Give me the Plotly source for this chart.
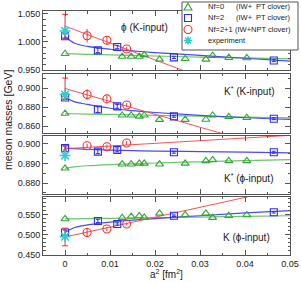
import plotly.graph_objects as go
from plotly.subplots import make_subplots

# ---------------- data ----------------
a2_nf0 = [0.0, 0.0127, 0.0147, 0.0165, 0.0176, 0.0210, 0.0267, 0.0313, 0.0328, 0.0364, 0.0404]
a2_nf2 = [0.0, 0.0073, 0.0116, 0.0242, 0.0464]
a2_nf21 = [0.0, 0.0049, 0.0093, 0.0137]
a2_exp = [0.0]

# panel 1: phi (K-input)
phiK_nf0 = [0.979, 0.974, 0.974, 0.974, 0.977, 0.969, 0.970, 0.969, 0.9755, 0.972, 0.9715]
phiK_nf2 = [1.010, 0.985, 0.991, 0.9725, 0.967]
phiK_nf2_err = [0.004, 0.004, 0.003, 0.002, 0.002]
phiK_nf21 = [1.028, 1.011, 1.003, 0.9875]
phiK_nf21_err = [0.021, 0.012, 0.007, 0.004]
phiK_exp = [1.0195]

# panel 2: K* (K-input)
KsK_nf0 = [0.8734, 0.8716, 0.8716, 0.8705, 0.8716, 0.8670, 0.8670, 0.8672, 0.8716, 0.8700, 0.8690]
KsK_nf2 = [0.8902, 0.8776, 0.8810, 0.8705, 0.8680]
KsK_nf2_err = [0.002, 0.003, 0.002, 0.001, 0.001]
KsK_nf21 = [0.8997, 0.8934, 0.8888, 0.8824]
KsK_nf21_err = [0.011, 0.0055, 0.003, 0.002]
KsK_exp = [0.8934]

# panel 3: K* (phi-input)
KsP_nf0 = [0.8875, 0.8896, 0.8896, 0.8900, 0.8900, 0.8896, 0.8900, 0.8913, 0.8918, 0.8913, 0.8913]
KsP_nf2 = [0.8978, 0.8960, 0.8969, 0.8957, 0.8957]
KsP_nf2_err = [0.001, 0.001, 0.001, 0.0005, 0.0005]
KsP_nf21 = [0.8975, 0.8990, 0.8985, 0.9004]
KsP_nf21_err = [0.0015, 0.001, 0.001, 0.001]
KsP_exp = [0.8940]

# panel 4: K (phi-input)
KP_nf0 = [0.540, 0.543, 0.546, 0.5475, 0.544, 0.554, 0.550, 0.554, 0.5433, 0.548, 0.550]
KP_nf2 = [0.506, 0.535, 0.5275, 0.548, 0.5567]
KP_nf2_err = [0.006, 0.004, 0.003, 0.002, 0.002]
KP_nf21 = [0.495, 0.506, 0.515, 0.5275]
KP_nf21_err = [0.022, 0.012, 0.005, 0.003]
KP_exp = [0.4957]

# fit curves
fit_x = [0.0, 0.002, 0.005, 0.01, 0.015, 0.02, 0.03, 0.04, 0.05]
phiK_fit_nf0 = [0.979, 0.9786, 0.978, 0.977, 0.976, 0.975, 0.973, 0.9715, 0.970]
phiK_fit_nf2 = [1.010, 0.998, 0.992, 0.987, 0.984, 0.981, 0.976, 0.971, 0.966]
KsK_fit_nf0 = [0.8734, 0.8732, 0.8729, 0.8725, 0.8720, 0.8716, 0.8706, 0.8697, 0.8688]
KsK_fit_nf2 = [0.8902, 0.8860, 0.8830, 0.8790, 0.8765, 0.8745, 0.8715, 0.8690, 0.8672]
KsP_fit_nf0 = [0.8875, 0.8882, 0.8888, 0.8894, 0.8898, 0.8902, 0.8908, 0.8914, 0.8919]
KsP_fit_nf2 = [0.8978, 0.8975, 0.8972, 0.8968, 0.8965, 0.8963, 0.8960, 0.8957, 0.8954]
KP_fit_nf0 = [0.540, 0.5403, 0.5408, 0.5416, 0.5424, 0.5432, 0.5448, 0.5464, 0.548]
KP_fit_nf2 = [0.506, 0.518, 0.525, 0.532, 0.537, 0.541, 0.548, 0.555, 0.561]
fit21_x = [0.0, 0.05]
phiK_fit_nf21 = [1.028, 0.878]
KsK_fit_nf21 = [0.8997, 0.832]
KsP_fit_nf21 = [0.8975, 0.9043]
KP_fit_nf21 = [0.495, 0.6185]

x_tick_vals = [0, 0.01, 0.02, 0.03, 0.04, 0.05]
x_tick_text = ["0", "0.01", "0.02", "0.03", "0.04", "0.05"]

panel_labels = ["\u03d5 (K-input)", "K<sup>*</sup> (K-input)", "K<sup>*</sup> (\u03d5-input)", "K (\u03d5-input)"]
legend_names = ["Nf=0", "Nf=2", "Nf=2+1", "experiment"]

# ---------------- style ----------------
GREEN = "#2fa82f"
GREEN_L = "#6cc46c"
BLUE = "#2e2ee8"
BLUE_L = "#4a4af5"
RED = "#f03030"
RED_L = "#f55555"
CYAN = "#33cccc"
AXC = "#555555"
FONT = "Liberation Sans, Arial, sans-serif"

panels = [
    dict(nf0=phiK_nf0, nf2=phiK_nf2, nf2e=phiK_nf2_err, nf21=phiK_nf21, nf21e=phiK_nf21_err, exp=phiK_exp,
         f0=phiK_fit_nf0, f2=phiK_fit_nf2, f21=phiK_fit_nf21,
         yr=[0.95, 1.055], dt=0.05, mdt=0.01, lab=(0.0176, 1.0255)),
    dict(nf0=KsK_nf0, nf2=KsK_nf2, nf2e=KsK_nf2_err, nf21=KsK_nf21, nf21e=KsK_nf21_err, exp=KsK_exp,
         f0=KsK_fit_nf0, f2=KsK_fit_nf2, f21=KsK_fit_nf21,
         yr=[0.853, 0.915], dt=0.02, mdt=0.01, lab=(0.0410, 0.8968)),
    dict(nf0=KsP_nf0, nf2=KsP_nf2, nf2e=KsP_nf2_err, nf21=KsP_nf21, nf21e=KsP_nf21_err, exp=KsP_exp,
         f0=KsP_fit_nf0, f2=KsP_fit_nf2, f21=KsP_fit_nf21,
         yr=[0.8744, 0.904], dt=0.01, mdt=0.005, lab=(0.0407, 0.8826)),
    dict(nf0=KP_nf0, nf2=KP_nf2, nf2e=KP_nf2_err, nf21=KP_nf21, nf21e=KP_nf21_err, exp=KP_exp,
         f0=KP_fit_nf0, f2=KP_fit_nf2, f21=KP_fit_nf21,
         yr=[0.45, 0.595], dt=0.05, mdt=0.01, lab=(0.0404, 0.4925)),
]

domains = [[0.758, 1.0], [0.5, 0.742], [0.25, 0.488], [0.0, 0.238]]

fig = make_subplots(rows=4, cols=1, shared_xaxes=True, vertical_spacing=0.02)

for i, p in enumerate(panels):
    r = i + 1
    # fit lines
    fig.add_trace(go.Scatter(x=fit_x, y=p["f0"], mode="lines", line=dict(color=GREEN_L, width=1.2, shape="spline"),
                             showlegend=False, hoverinfo="skip"), row=r, col=1)
    fig.add_trace(go.Scatter(x=fit_x, y=p["f2"], mode="lines", line=dict(color=BLUE_L, width=1.2, shape="spline"),
                             showlegend=False, hoverinfo="skip"), row=r, col=1)
    fig.add_trace(go.Scatter(x=fit21_x, y=p["f21"], mode="lines", line=dict(color=RED_L, width=1.0),
                             showlegend=False, hoverinfo="skip"), row=r, col=1)
    # Nf=0
    fig.add_trace(go.Scatter(x=a2_nf0, y=p["nf0"], mode="markers",
                             marker=dict(symbol="triangle-up-open", size=7, color=GREEN, line=dict(width=1.1, color=GREEN)),
                             showlegend=False), row=r, col=1)
    # Nf=2
    fig.add_trace(go.Scatter(x=a2_nf2, y=p["nf2"], mode="markers",
                             error_y=dict(type="data", array=p["nf2e"], color=BLUE, thickness=1, width=2),
                             marker=dict(symbol="square-open", size=7, color=BLUE, line=dict(width=1.1, color=BLUE)),
                             showlegend=False), row=r, col=1)
    # Nf=2+1 continuum value (error bar only)
    fig.add_trace(go.Scatter(x=a2_nf21[:1], y=p["nf21"][:1], mode="markers",
                             error_y=dict(type="data", array=p["nf21e"][:1], color=RED, thickness=1, width=3),
                             marker=dict(size=2, color=RED, opacity=0),
                             showlegend=False), row=r, col=1)
    # Nf=2+1 lattice points
    fig.add_trace(go.Scatter(x=a2_nf21[1:], y=p["nf21"][1:], mode="markers",
                             error_y=dict(type="data", array=p["nf21e"][1:], color=RED, thickness=1, width=0),
                             marker=dict(symbol="circle-open", size=8, color=RED, line=dict(width=1.1, color=RED)),
                             showlegend=False), row=r, col=1)
    # experiment
    fig.add_trace(go.Scatter(x=a2_exp, y=p["exp"], mode="markers",
                             marker=dict(symbol="asterisk-open", size=9, color=CYAN, line=dict(width=1.6, color=CYAN)),
                             showlegend=False), row=r, col=1)

    yname = "yaxis" if r == 1 else f"yaxis{r}"
    xname = "xaxis" if r == 1 else f"xaxis{r}"
    fig.layout[yname].update(domain=domains[i], range=p["yr"], dtick=p["dt"], tick0=0, tickformat=".3f",
                             ticks="inside", ticklen=5, tickcolor=AXC, tickwidth=1,
                             minor=dict(dtick=p["mdt"], ticks="inside", ticklen=2.5, tickcolor=AXC),
                             showline=True, linecolor=AXC, linewidth=1, mirror="ticks",
                             showgrid=False, zeroline=False, automargin=False,
                             tickfont=dict(size=9, color="#222", family=FONT))
    fig.layout[xname].update(range=[-0.0049, 0.05], tickvals=x_tick_vals, ticktext=x_tick_text,
                             ticks="inside", ticklen=5, tickcolor=AXC, tickwidth=1,
                             minor=dict(dtick=0.005, tick0=0, ticks="inside", ticklen=2.5, tickcolor=AXC),
                             showline=True, linecolor=AXC, linewidth=1, mirror="ticks",
                             showgrid=False, zeroline=False, showticklabels=(r == 4), automargin=False,
                             tickfont=dict(size=9, color="#222", family=FONT))
    xref = "x" if r == 1 else f"x{r}"
    yref = "y" if r == 1 else f"y{r}"
    fig.add_annotation(x=p["lab"][0], y=p["lab"][1], xref=xref, yref=yref, text=panel_labels[i],
                       showarrow=False, font=dict(size=10, color="#222", family=FONT))

# ---------------- custom legend ----------------
L, R, T, B = 43, 290, 11, 255


def px_x(px):
    return (px - L) / (R - L)


def px_y(py):
    return (B - py) / (B - T)


fig.add_shape(type="rect", xref="paper", yref="paper", x0=px_x(182), x1=px_x(298), y0=px_y(50), y1=px_y(2),
              line=dict(color=AXC, width=1), fillcolor="white", layer="above")

rows_y = [7, 18, 29.5, 40.5]
sx = 188
# triangle
ty = rows_y[0]
fig.add_shape(type="path", xref="paper", yref="paper", layer="above",
              path=f"M {px_x(sx)},{px_y(ty-3.8)} L {px_x(sx+4)},{px_y(ty+3)} L {px_x(sx-4)},{px_y(ty+3)} Z",
              line=dict(color=GREEN, width=1.1))
# square
qy = rows_y[1]
fig.add_shape(type="rect", xref="paper", yref="paper", layer="above",
              x0=px_x(sx-3.5), x1=px_x(sx+3.5), y0=px_y(qy+3.5), y1=px_y(qy-3.5),
              line=dict(color=BLUE, width=1.1))
# circle
cy = rows_y[2]
fig.add_shape(type="circle", xref="paper", yref="paper", layer="above",
              x0=px_x(sx-4), x1=px_x(sx+4), y0=px_y(cy+4), y1=px_y(cy-4),
              line=dict(color=RED, width=1.1))
# asterisk
ay = rows_y[3]
d = 4.2
e = d * 0.707
ast = (f"M {px_x(sx)},{px_y(ay-d)} L {px_x(sx)},{px_y(ay+d)} "
       f"M {px_x(sx-d)},{px_y(ay)} L {px_x(sx+d)},{px_y(ay)} "
       f"M {px_x(sx-e)},{px_y(ay-e)} L {px_x(sx+e)},{px_y(ay+e)} "
       f"M {px_x(sx-e)},{px_y(ay+e)} L {px_x(sx+e)},{px_y(ay-e)}")
fig.add_shape(type="path", xref="paper", yref="paper", layer="above", path=ast,
              line=dict(color=CYAN, width=1.5))

lf = dict(size=7.5, color="#222", family=FONT)
for k, name in enumerate(legend_names):
    fig.add_annotation(x=px_x(206), y=px_y(rows_y[k]), xref="paper", yref="paper", text=name,
                       xanchor="left", yanchor="middle", showarrow=False, font=lf)
for k in (0, 1):
    fig.add_annotation(x=px_x(234), y=px_y(rows_y[k]), xref="paper", yref="paper", text="(IW+",
                       xanchor="left", yanchor="middle", showarrow=False, font=lf)
    fig.add_annotation(x=px_x(293), y=px_y(rows_y[k]), xref="paper", yref="paper", text="PT clover)",
                       xanchor="right", yanchor="middle", showarrow=False, font=lf)
fig.add_annotation(x=px_x(293), y=px_y(rows_y[2]), xref="paper", yref="paper", text="(IW+NPT clover)",
                   xanchor="right", yanchor="middle", showarrow=False, font=lf)

# axis titles
fig.add_annotation(x=px_x(8), y=px_y(120), xref="paper", yref="paper", text="meson masses [GeV]",
                   textangle=-90, showarrow=False, xanchor="center", yanchor="middle",
                   font=dict(size=10.5, color="#222", family=FONT))
fig.add_annotation(x=px_x(166), y=px_y(274), xref="paper", yref="paper", text="a<sup>2</sup> [fm<sup>2</sup>]",
                   showarrow=False, xanchor="center", yanchor="middle",
                   font=dict(size=10, color="#222", family=FONT))

fig.update_layout(width=301, height=283, margin=dict(l=L, r=301 - R, t=T, b=283 - B),
                  paper_bgcolor="white", plot_bgcolor="white", showlegend=False,
                  font=dict(family=FONT), hovermode=False)

fig.write_html("out.html", config={"displayModeBar": False, "staticPlot": True},
               post_script="document.body.style.margin='0px';document.body.style.overflow='hidden';")
